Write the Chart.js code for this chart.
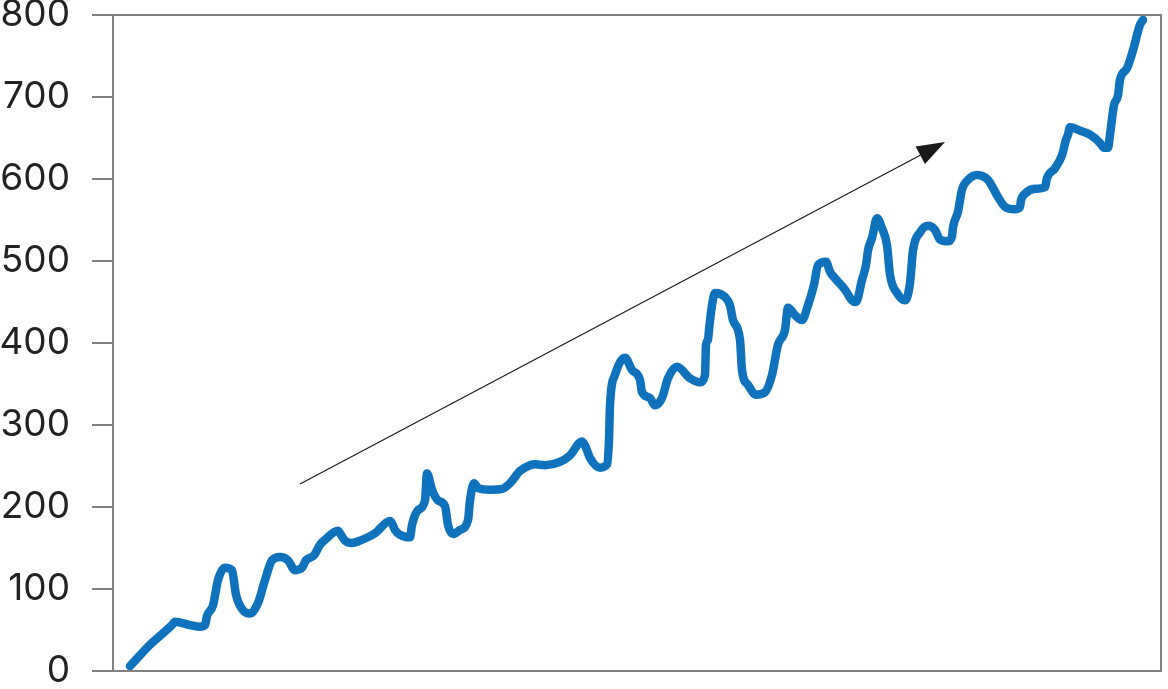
<!DOCTYPE html>
<html>
<head>
<meta charset="utf-8">
<script src="https://cdn.jsdelivr.net/npm/chart.js@4"></script>
<style>
  html, body { margin: 0; padding: 0; background: #fff; }
  #wrap { width: 1168px; height: 689px; }
</style>
</head>
<body>
<div id="wrap"><canvas id="dataChart"></canvas></div>
<script>
// positions along the horizontal axis (arbitrary units)
var xs = [17, 37, 59, 62, 77, 87, 92, 94, 100, 105, 112, 119, 123, 130, 137, 145, 152, 159, 167, 175,
  182, 189, 193, 201, 207, 212, 225, 227, 232, 239, 247, 262, 277, 279, 282, 287, 297, 299, 305, 312,
  314, 319, 325, 332, 335, 340, 347, 355, 357, 361, 365, 377, 389, 397, 407, 417, 422, 432, 447, 457,
  469, 472, 477, 487, 494, 496, 497, 502, 512, 519, 527, 529, 537, 542, 549, 555, 564, 577, 587, 592,
  593, 595, 596, 599, 602, 612, 617, 620, 627, 629, 635, 643, 652, 659, 665, 672, 675, 682, 689, 695,
  701, 705, 713, 717, 722, 732, 739, 743, 749, 753, 755, 759, 764, 769, 774, 777, 784, 792, 797, 800,
  807, 815, 822, 827, 835, 839, 840, 845, 847, 849, 855, 864, 875, 885, 892, 902, 907, 908, 912, 922,
  932, 934, 942, 949, 953, 955, 957, 967, 977, 987, 991, 995, 997, 1001, 1005, 1007, 1014, 1020, 1027, 1030];

var ys = [6, 32, 56, 60, 56, 54, 56, 67, 80, 111, 126, 123, 93, 74, 70, 83, 111, 135, 139, 135,
  123, 126, 135, 141, 154, 160, 171, 168, 159, 156, 159, 168, 183, 180, 172, 166, 163, 178, 196, 208,
  241, 221, 208, 201, 178, 167, 172, 184, 208, 229, 223, 221, 222, 229, 244, 251, 252, 251, 255, 263,
  280, 275, 260, 248, 252, 282, 324, 361, 382, 367, 355, 340, 333, 324, 333, 357, 371, 357, 352, 361,
  398, 404, 416, 446, 461, 456, 446, 428, 404, 367, 349, 337, 340, 361, 398, 416, 443, 434, 428, 446,
  471, 495, 499, 487, 479, 465, 452, 450, 477, 495, 513, 528, 552, 540, 519, 483, 461, 452, 473, 513,
  535, 543, 538, 526, 524, 530, 541, 560, 574, 587, 599, 605, 599, 578, 566, 563, 566, 574, 582, 588,
  590, 601, 613, 629, 648, 654, 663, 659, 654, 644, 638, 638, 654, 690, 702, 721, 735, 757, 788, 794];

var yTicks = [0, 100, 200, 300, 400, 500, 600, 700, 800];

// trend arrow, start and end in data units
var arrowFrom = { x: 187, y: 228 };
var arrowTo = { x: 832, y: 645 };

var boxAndArrow = {
  id: 'boxAndArrow',
  afterDatasetsDraw: function(chart) {
    var ctx = chart.ctx;
    var a = chart.chartArea;
    var sx = chart.scales.x, sy = chart.scales.y;
    ctx.save();
    // frame round the plot
    ctx.strokeStyle = '#808080';
    ctx.lineWidth = 2;
    ctx.beginPath();
    ctx.moveTo(a.left, a.top);
    ctx.lineTo(a.right, a.top);
    ctx.lineTo(a.right, a.bottom);
    ctx.lineTo(a.left - 21, a.bottom);
    ctx.stroke();

    // arrow
    var x0 = sx.getPixelForValue(arrowFrom.x), y0 = sy.getPixelForValue(arrowFrom.y);
    var x1 = sx.getPixelForValue(arrowTo.x), y1 = sy.getPixelForValue(arrowTo.y);
    var ang = Math.atan2(y1 - y0, x1 - x0);
    var head = 28, half = 10;
    var bx = x1 - head * Math.cos(ang), by = y1 - head * Math.sin(ang);
    ctx.strokeStyle = '#1a1a1a';
    ctx.lineWidth = 1.2;
    ctx.beginPath();
    ctx.moveTo(x0, y0);
    ctx.lineTo(bx, by);
    ctx.stroke();
    ctx.fillStyle = '#1a1a1a';
    ctx.beginPath();
    ctx.moveTo(x1, y1);
    ctx.lineTo(bx + half * Math.sin(ang), by - half * Math.cos(ang));
    ctx.lineTo(bx - half * Math.sin(ang), by + half * Math.cos(ang));
    ctx.closePath();
    ctx.fill();
    ctx.restore();
  }
};

function createChart() {
  var points = xs.map(function(x, i) { return { x: x, y: ys[i] }; });
  var ctx = document.getElementById('dataChart');
  new Chart(ctx, {
    type: 'line',
    data: {
      datasets: [{
        data: points,
        borderColor: '#0f72bd',
        borderWidth: 8.5,
        borderCapStyle: 'round',
        borderJoinStyle: 'round',
        cubicInterpolationMode: 'monotone',
        pointRadius: 0,
        fill: false
      }]
    },
    options: {
      responsive: true,
      maintainAspectRatio: false,
      animation: false,
      layout: { padding: { top: 0, right: 7, bottom: 0, left: 0 } },
      plugins: { legend: { display: false }, tooltip: { enabled: false } },
      scales: {
        x: { type: 'linear', display: false, min: 0, max: 1048 },
        y: {
          min: 0,
          max: 800,
          afterFit: function(scale) {
            scale.width = 113;
            scale.paddingTop = 15;
            scale.paddingBottom = 18;
          },
          afterBuildTicks: function(scale) {
            scale.ticks = yTicks.map(function(v) { return { value: v }; });
          },
          grid: { drawOnChartArea: false, tickLength: 21, color: '#808080', lineWidth: 2 },
          border: { display: true, color: '#808080', width: 2 },
          ticks: {
            padding: 22,
            color: '#222',
            font: { family: 'Inter', size: 37, lineHeight: 0.8 }
          }
        }
      }
    },
    plugins: [boxAndArrow]
  });
}

createChart();
</script>
</body>
</html>
